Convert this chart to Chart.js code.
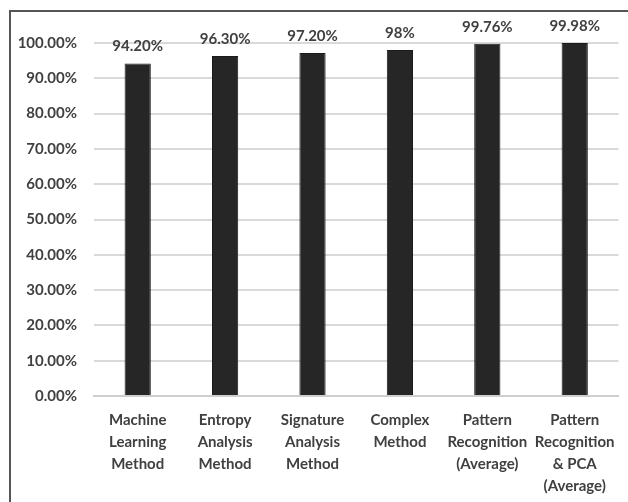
<!DOCTYPE html>
<html>
<head>
<meta charset="utf-8">
<script src="https://cdn.jsdelivr.net/npm/chart.js@4/dist/chart.umd.min.js"></script>
<style>
  html, body { margin: 0; padding: 0; background: #fff; }
  #wrap { position: relative; width: 628px; height: 502px; overflow: hidden; }
  #frame { position: absolute; left: 9px; top: 10px; width: 640px; height: 520px;
           border: 2px solid #555; box-sizing: border-box; }
  canvas { position: absolute; left: 0; top: 0; }
</style>
</head>
<body>
<div id="wrap">
  <div id="frame"></div>
  <canvas id="c" width="628" height="502"></canvas>
</div>
<script>
// Detection accuracy by method
const categories = [
  ["Machine", "Learning", "Method"],
  ["Entropy", "Analysis", "Method"],
  ["Signature", "Analysis", "Method"],
  ["Complex", "Method"],
  ["Pattern", "Recognition", "(Average)"],
  ["Pattern", "Recognition", "& PCA", "(Average)"]
];
const accuracy = [94.2, 96.3, 97.2, 98, 99.76, 99.98];
const valueLabels = ["94.20%", "96.30%", "97.20%", "98%", "99.76%", "99.98%"];
const yTicks = [0, 10, 20, 30, 40, 50, 60, 70, 80, 90, 100];

const FONT = "Lato, 'Open Sans', sans-serif";
const TEXT = "#404040";

// Writes each bar's value above it
const valueLabelPlugin = {
  id: "valueLabels",
  afterDatasetsDraw(chart) {
    const ctx = chart.ctx;
    const meta = chart.getDatasetMeta(0);
    ctx.save();
    ctx.font = "bold 15px " + FONT;
    ctx.fillStyle = TEXT;
    ctx.textAlign = "center";
    ctx.textBaseline = "middle";
    meta.data.forEach((bar, i) => {
      ctx.fillText(valueLabels[i], bar.x, bar.y - 17);
    });
    ctx.restore();
  }
};

new Chart(document.getElementById("c"), {
  type: "bar",
  data: {
    labels: categories,
    datasets: [{
      data: accuracy,
      backgroundColor: "#262626",
      borderColor: "#1a1a1a",
      borderWidth: 1,
      barPercentage: 0.3,
      categoryPercentage: 1.0
    }]
  },
  options: {
    responsive: false,
    animation: false,
    layout: { padding: { top: 43, right: 5, left: 0, bottom: 0 } },
    plugins: { legend: { display: false }, tooltip: { enabled: false } },
    scales: {
      x: {
        grid: { display: false, drawTicks: false },
        border: { display: true, color: "#cfcfcf", width: 2 },
        ticks: {
          color: TEXT,
          font: { family: FONT, size: 15, weight: "bold", lineHeight: 1.47 },
          padding: 13,
          maxRotation: 0,
          autoSkip: false
        },
        afterFit(scale) { scale.height = 106; }
      },
      y: {
        min: 0,
        max: 100,
        afterBuildTicks(scale) { scale.ticks = yTicks.map(v => ({ value: v })); },
        grid: { color: "#d9d9d9", lineWidth: 2, drawTicks: false },
        border: { display: false },
        ticks: {
          color: TEXT,
          font: { family: FONT, size: 15, weight: "bold" },
          padding: 17,
          callback: v => v.toFixed(2) + "%"
        },
        afterFit(scale) { scale.width = 94; }
      }
    }
  },
  plugins: [valueLabelPlugin]
});
</script>
</body>
</html>
